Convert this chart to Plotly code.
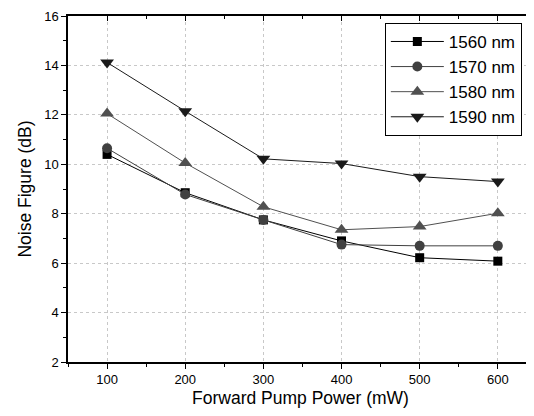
import plotly.graph_objects as go

power = [100, 200, 300, 400, 500, 600]
nf_1560 = [10.4, 8.85, 7.75, 6.9, 6.22, 6.08]
nf_1570 = [10.65, 8.78, 7.75, 6.75, 6.7, 6.7]
nf_1580 = [12.05, 10.05, 8.28, 7.35, 7.48, 8.02]
nf_1590 = [14.12, 12.15, 10.22, 10.03, 9.5, 9.3]
y_ticks = [2, 4, 6, 8, 10, 12, 14, 16]

series = [
    ("1560 nm", nf_1560, "square", "#000000", 9),
    ("1570 nm", nf_1570, "circle", "#404040", 10),
    ("1580 nm", nf_1580, "triangle-up", "#505050", 12),
    ("1590 nm", nf_1590, "triangle-down", "#1a1a1a", 12),
]

font = "Liberation Sans, Arial, sans-serif"
xr = [50, 645]
yr = [2, 16]

fig = go.Figure()
for name, vals, sym, col, sz in series:
    fig.add_trace(go.Scatter(
        x=power, y=vals, name=name, mode="lines+markers",
        line=dict(color=col, width=1),
        marker=dict(symbol=sym, size=sz, color=col)))

# invisible trace so the mirrored top/right axes get drawn
fig.add_trace(go.Scatter(x=[None], y=[None], xaxis="x2", yaxis="y2",
                         showlegend=False, hoverinfo="skip"))

axis_common = dict(showline=True, linecolor="black", linewidth=1.5,
                   tickcolor="black", zeroline=False, automargin=False,
                   ticklabeloverflow="allow")

# page body has an 8px margin, so keep the figure inside the window (no scrollbars)
fig.update_layout(
    width=526, height=400,
    margin=dict(l=60, r=1, t=8, b=46),
    paper_bgcolor="white", plot_bgcolor="white",
    font=dict(family=font, size=13, color="black"),
    xaxis=dict(range=xr, tickvals=power, ticks="outside", ticklen=5,
               minor=dict(ticks="outside", dtick=50, tick0=50, ticklen=3, tickcolor="black"),
               showgrid=True, gridcolor="#c8c8c8", griddash="dot", gridwidth=1,
               title=dict(text="Forward Pump Power (mW)", font=dict(size=17.5), standoff=6),
               **axis_common),
    yaxis=dict(range=yr, tickvals=y_ticks, ticks="outside", ticklen=5,
               minor=dict(ticks="outside", dtick=1, ticklen=3, tickcolor="black"),
               showgrid=True, gridcolor="#c8c8c8", griddash="dot", gridwidth=1,
               title=dict(text="Noise Figure (dB)", font=dict(size=17.5), standoff=8),
               **axis_common),
    xaxis2=dict(overlaying="x", side="top", range=xr, tickvals=power, ticks="inside",
                ticklen=5, showticklabels=False, showgrid=False,
                minor=dict(ticks="inside", dtick=50, tick0=50, ticklen=3, tickcolor="black"),
                **axis_common),
    yaxis2=dict(overlaying="y", side="right", range=yr, tickvals=y_ticks,
                ticks="inside", ticklen=5, showticklabels=False, showgrid=False,
                minor=dict(ticks="inside", dtick=1, ticklen=3, tickcolor="black"),
                **axis_common),
    legend=dict(x=0.976, y=0.98, xanchor="right", yanchor="top",
                bgcolor="white", bordercolor="black", borderwidth=1,
                font=dict(size=17), tracegroupgap=0, itemwidth=53),
)

fig.write_html("out.html")
